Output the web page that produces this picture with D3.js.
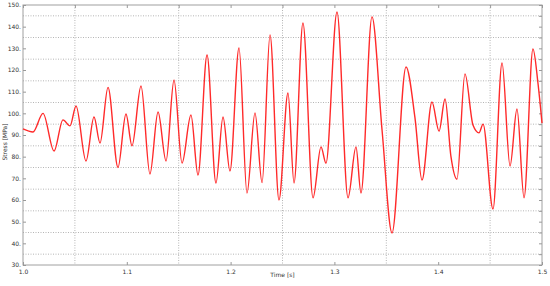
<!DOCTYPE html>
<html>
<head>
<meta charset="utf-8">
<script src="https://cdn.jsdelivr.net/npm/d3@7"></script>
<style>
  body { margin: 0; background: #fff; }
  svg text { font-family: "DejaVu Sans", sans-serif; fill: #333; }
</style>
</head>
<body>
<svg id="chart" width="550" height="286"></svg>
<script>
// time [s] and stress [MPa] at the turning points
const time = [
  1.000, 1.0096, 1.0193, 1.0299, 1.0385, 1.0453, 1.0511, 1.0607, 1.0684, 1.0742,
  1.0819, 1.0915, 1.0992, 1.1050, 1.1137, 1.1223, 1.1301, 1.1378, 1.1455, 1.1532,
  1.1618, 1.1686, 1.1773, 1.1859, 1.1927, 1.1994, 1.2081, 1.2158, 1.2235, 1.2303,
  1.2380, 1.2466, 1.2553, 1.2611, 1.2697, 1.2794, 1.2871, 1.2919, 1.3025, 1.3131,
  1.3208, 1.3256, 1.3362, 1.3459, 1.3555, 1.3690, 1.3776, 1.3844, 1.3940, 1.4008,
  1.4066, 1.4123, 1.4181, 1.4258, 1.4335, 1.4393, 1.4432, 1.4528, 1.4615, 1.4692,
  1.4759, 1.4827, 1.4913, 1.4961, 1.5000
]
const stress = [
  92.8, 91.4, 100, 82.6, 97, 94.2, 103.4, 78, 98.3, 86.3,
  112, 75, 99.7, 85, 112.6, 72, 100.6, 78, 115.4, 77,
  99.2, 71.5, 126.9, 67.8, 98.3, 73.4, 130.2, 63.2, 100.2, 68,
  136.2, 60, 109.4, 67.8, 141.7, 61, 84.5, 77, 146.8, 61,
  84.5, 63.2, 144.5, 92.3, 44.8, 121.4, 98, 69.2, 105.2, 91.8,
  106.6, 80, 69.6, 118.2, 94.6, 91, 95, 55.8, 123.2, 75.7,
  102, 61, 129.7, 114, 95.5
]
const xTicks = [1.0, 1.1, 1.2, 1.3, 1.4, 1.5]
const yTicks = [30, 40, 50, 60, 70, 80, 90, 100, 110, 120, 130, 140, 150]
const xGrid = [1.05, 1.15, 1.25, 1.35, 1.45]
const yGrid = [35, 45, 55, 65, 75, 85, 95, 105, 115, 125, 135, 145]

const svg = d3.select("#chart")
const pLeft = 23, pRight = 542, pTop = 5, pBottom = 265

const x = d3.scaleLinear().domain([1.0, 1.5]).range([pLeft, pRight])
const y = d3.scaleLinear().domain([30, 150]).range([pBottom, pTop])

// dotted grid sits half way between the labelled ticks
svg.append("g")
  .selectAll("line")
  .data(yGrid)
  .enter()
  .append("line")
  .attr("x1", pLeft).attr("x2", pRight)
  .attr("y1", d => y(d)).attr("y2", d => y(d))
  .attr("stroke", "#b5b5b5")
  .attr("stroke-dasharray", "1,1.5")

svg.append("g")
  .selectAll("line")
  .data(xGrid)
  .enter()
  .append("line")
  .attr("y1", pTop).attr("y2", pBottom)
  .attr("x1", d => x(d)).attr("x2", d => x(d))
  .attr("stroke", "#b5b5b5")
  .attr("stroke-dasharray", "1,1.5")

// frame
svg.append("rect")
  .attr("x", pLeft).attr("y", pTop)
  .attr("width", pRight - pLeft).attr("height", pBottom - pTop)
  .attr("fill", "none")
  .attr("stroke", "#a0a0a0")

// axes with small inner ticks
const xAxis = svg.append("g")
  .attr("transform", "translate(0," + pBottom + ")")
  .call(d3.axisBottom(x).tickValues(xTicks).tickSize(-3).tickPadding(5).tickFormat(d3.format(".1f")))
const yAxis = svg.append("g")
  .attr("transform", "translate(" + pLeft + ",0)")
  .call(d3.axisLeft(y).tickValues(yTicks).tickSize(-3).tickPadding(2).tickFormat(d => d + "."))
const xTop = svg.append("g")
  .attr("transform", "translate(0," + pTop + ")")
  .call(d3.axisTop(x).tickValues(xTicks.concat(xGrid)).tickSize(-3).tickFormat(""))
const yRight = svg.append("g")
  .attr("transform", "translate(" + pRight + ",0)")
  .call(d3.axisRight(y).tickValues(yTicks.concat(yGrid)).tickSize(-3).tickFormat(""))

for (const ax of [xAxis, yAxis, xTop, yRight]) {
  ax.select(".domain").remove()
  ax.selectAll("line").attr("stroke", "#999")
  ax.selectAll("text").attr("font-size", 6).attr("fill", "#333")
}

// the stress trace
const line = d3.line()
  .x((d, i) => x(time[i]))
  .y(d => y(d))
  .curve(d3.curveMonotoneX)

svg.append("path")
  .datum(stress)
  .attr("d", line)
  .attr("fill", "none")
  .attr("stroke", "#ff2a2a")
  .attr("stroke-width", 1.4)

// axis titles
svg.append("text")
  .attr("x", (pLeft + pRight) / 2)
  .attr("y", 277)
  .attr("text-anchor", "middle")
  .attr("font-size", 6)
  .text("Time [s]")

svg.append("text")
  .attr("transform", "translate(7,142) rotate(-90)")
  .attr("text-anchor", "middle")
  .attr("font-size", 6)
  .text("Stress [MPa]")
</script>
</body>
</html>
